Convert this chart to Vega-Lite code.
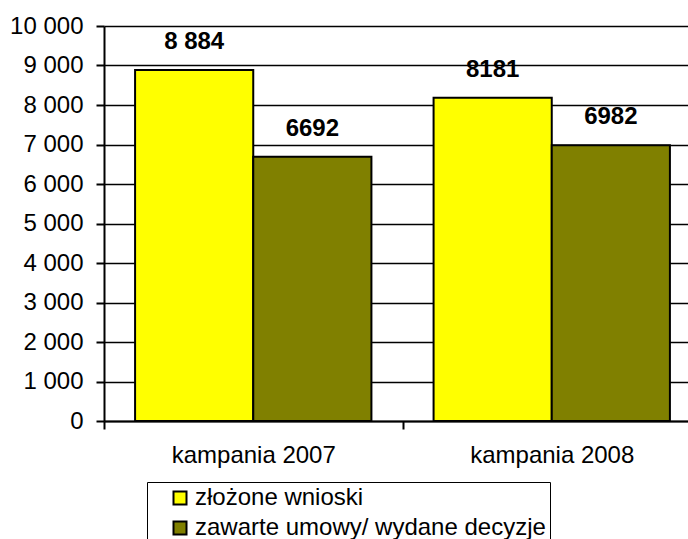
{
  "$schema": "https://vega.github.io/schema/vega-lite/v6.json",
  "width": 584,
  "height": 395,
  "autosize": {"type": "none"},
  "padding": {"left": 104, "top": 26, "right": 0, "bottom": 118},
  "background": "white",
  "data": {
    "values": [
      {"kampania": "kampania 2007", "seria": "złożone wnioski", "wartosc": 8884, "etykieta": "8 884"},
      {"kampania": "kampania 2007", "seria": "zawarte umowy/ wydane decyzje", "wartosc": 6692, "etykieta": "6692"},
      {"kampania": "kampania 2008", "seria": "złożone wnioski", "wartosc": 8181, "etykieta": "8181"},
      {"kampania": "kampania 2008", "seria": "zawarte umowy/ wydane decyzje", "wartosc": 6982, "etykieta": "6982"}
    ]
  },
  "encoding": {
    "x": {
      "field": "kampania",
      "type": "nominal",
      "scale": {"range": [0, 597], "paddingInner": 0, "paddingOuter": 0},
      "axis": {
        "title": null,
        "labelAngle": 0,
        "tickBand": "extent",
        "tickSize": 8,
        "tickWidth": 2,
        "tickColor": "black",
        "domainColor": "black",
        "domainWidth": 2,
        "labelFontSize": 24,
        "labelColor": "black",
        "labelPadding": 14,
        "grid": false
      }
    },
    "xOffset": {
      "field": "seria",
      "sort": ["złożone wnioski", "zawarte umowy/ wydane decyzje"],
      "scale": {"paddingInner": 0, "paddingOuter": 0.263}
    },
    "y": {
      "field": "wartosc",
      "type": "quantitative",
      "scale": {"domain": [0, 10000], "nice": false},
      "axis": {
        "title": null,
        "values": [0, 1000, 2000, 3000, 4000, 5000, 6000, 7000, 8000, 9000, 10000],
        "labelExpr": "replace(format(datum.value, ','), ',', ' ')",
        "grid": true,
        "gridColor": "black",
        "gridWidth": 1.5,
        "gridOpacity": 1,
        "domainColor": "black",
        "domainWidth": 2,
        "tickColor": "black",
        "tickSize": 8,
        "tickWidth": 2,
        "labelFontSize": 24,
        "labelColor": "black",
        "labelPadding": 13
      }
    }
  },
  "layer": [
    {
      "mark": {"type": "bar", "stroke": "black", "strokeWidth": 2},
      "encoding": {
        "color": {
          "field": "seria",
          "type": "nominal",
          "sort": ["złożone wnioski", "zawarte umowy/ wydane decyzje"],
          "scale": {"domain": ["złożone wnioski", "zawarte umowy/ wydane decyzje"], "range": ["#FFFF00", "#808000"]},
          "legend": {
            "orient": "none",
            "legendX": 43,
            "legendY": 456,
            "title": "\u00a0\u00a0\u00a0",
            "titleOrient": "right",
            "titlePadding": 0,
            "titleFontSize": 24,
            "strokeColor": "black",
            "fillColor": "white",
            "padding": 4,
            "symbolType": "square",
            "symbolSize": 169,
            "symbolStrokeColor": "black",
            "symbolStrokeWidth": 2,
            "symbolOpacity": 1,
            "symbolOffset": 17,
            "labelFontSize": 24,
            "labelColor": "black",
            "labelOffset": 3,
            "rowPadding": 6,
            "labelLimit": 0
          }
        }
      }
    },
    {
      "mark": {"type": "text", "baseline": "middle", "dy": -28, "fontSize": 24, "fontWeight": "bold", "color": "black"},
      "encoding": {
        "text": {"field": "etykieta"}
      }
    }
  ],
  "config": {"view": {"stroke": null}, "font": "Liberation Sans"}
}
